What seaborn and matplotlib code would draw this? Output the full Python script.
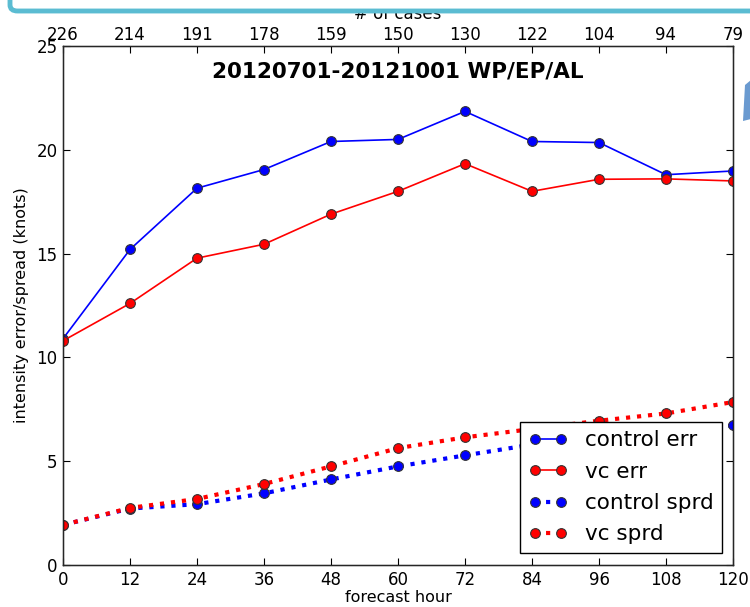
import numpy as np
import pandas as pd
import matplotlib
matplotlib.use("Agg")
import matplotlib.pyplot as plt
import seaborn as sns
from matplotlib.patches import FancyBboxPatch, Polygon

# forecast hours and number of cases (top axis)
hours = [0, 12, 24, 36, 48, 60, 72, 84, 96, 108, 120]
n_cases = [226, 214, 191, 178, 159, 150, 130, 122, 104, 94, 79]

# values (knots)
control_err = [10.9, 15.2, 18.15, 19.05, 20.4, 20.5, 21.85, 20.4, 20.35, 18.8, 18.98]
vc_err = [10.8, 12.6, 14.78, 15.45, 16.9, 18.0, 19.33, 18.0, 18.58, 18.6, 18.5]
control_sprd = [1.93, 2.72, 2.93, 3.45, 4.12, 4.75, 5.28, 5.8, 6.2, 6.5, 6.72]
vc_sprd = [1.93, 2.75, 3.18, 3.9, 4.75, 5.63, 6.15, 6.55, 6.95, 7.3, 7.85]

sns.set_style("white")
plt.rcParams['font.family'] = ['DejaVu Sans']
plt.rcParams['xtick.direction'] = 'in'
plt.rcParams['ytick.direction'] = 'in'
plt.rcParams['text.color'] = 'black'
plt.rcParams['axes.labelcolor'] = 'black'
plt.rcParams['xtick.color'] = 'black'
plt.rcParams['ytick.color'] = 'black'

fig = plt.figure(figsize=(7.5, 6.07), dpi=100)
ax = fig.add_axes([63/750, 42/607, 670/750, 519/607])

series = [
    (control_err, 'control err', 'blue', '-', 1.2),
    (vc_err, 'vc err', 'red', '-', 1.2),
    (control_sprd, 'control sprd', 'blue', ':', 3),
    (vc_sprd, 'vc sprd', 'red', ':', 3),
]
for vals, name, col, ls, lw in series:
    sns.lineplot(x=hours, y=vals, ax=ax, color=col, linestyle=ls, linewidth=lw,
                 marker='o', markersize=7, markeredgecolor='#333333',
                 markeredgewidth=0.8, label=name)

ax.set_xlim(0, 120)
ax.set_ylim(0, 25)
ax.set_xticks(hours)
ax.set_yticks(range(0, 26, 5))
ax.tick_params(axis='both', labelsize=12, colors='black', length=5, width=0.8,
               right=True, left=True, bottom=True, top=False, pad=4)
for sp in ax.spines.values():
    sp.set_color('black')
    sp.set_linewidth(1.0)
ax.set_xlabel('forecast hour', fontsize=11.5, labelpad=1)
ax.set_ylabel('intensity error/spread (knots)', fontsize=11.5, labelpad=5)

ax.text(0.5, 0.95, '20120701-20121001 WP/EP/AL', transform=ax.transAxes,
        ha='center', va='center', fontsize=15.5, fontweight='bold', color='black')

leg = ax.legend(loc='lower right', bbox_to_anchor=(0.984, 0.023), borderaxespad=0,
                fontsize=15.5, numpoints=2, fancybox=False, frameon=True,
                framealpha=1, handlelength=1.8, handletextpad=0.8,
                borderpad=0.4, labelspacing=0.53)
leg.get_frame().set_edgecolor('black')
leg.get_frame().set_linewidth(1.0)

# top axis with number of cases
ax2 = ax.twiny()
ax2.set_xlim(ax.get_xlim())
ax2.set_xticks(hours)
ax2.set_xticklabels([str(n) for n in n_cases])
ax2.tick_params(axis='x', labelsize=12, direction='in', length=5, width=0.8, pad=1.5)
ax2.set_xlabel('# of cases', fontsize=12, labelpad=5)

# screenshot frame and arrow fragment
frame = FancyBboxPatch((10/750, 596/607), 760/750, 40/607,
                       boxstyle='round,pad=0,rounding_size=0.01',
                       transform=fig.transFigure, fill=True, facecolor='white',
                       edgecolor='#5bbcd2', linewidth=3.5, clip_on=False, zorder=10)
fig.add_artist(frame)
arrow = Polygon([(745/750, 522/607), (751/750, 527/607), (751/750, 488/607),
                 (743/750, 486/607)], closed=True, transform=fig.transFigure,
                facecolor='#6a9ad0', edgecolor='none', zorder=10)
fig.add_artist(arrow)

fig.savefig('out.png', dpi=100)
